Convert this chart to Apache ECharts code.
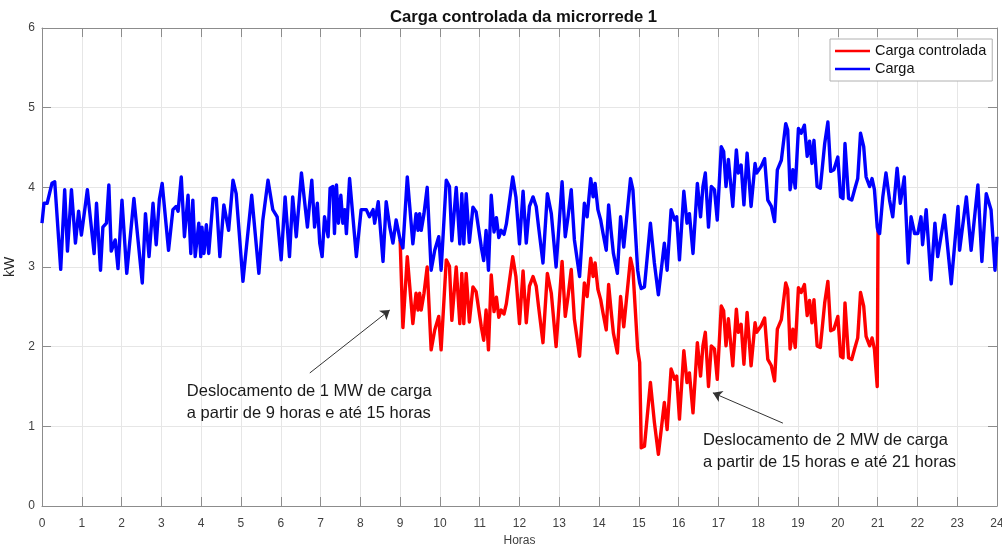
<!DOCTYPE html>
<html>
<head>
<meta charset="utf-8">
<title>Carga controlada da microrrede 1</title>
<script src="https://cdn.jsdelivr.net/npm/echarts@6/dist/echarts.min.js"></script>
<style>
  html, body { margin: 0; padding: 0; background: #fff; }
  #grafico { width: 1002px; height: 546px; }
</style>
</head>
<body>
<div id="grafico"></div>
<script>
// Carga (kW) – vértices da curva ao longo do dia (horas)
const horasCarga = [
  0.00, 0.05, 0.13, 0.18, 0.25, 0.32, 0.47, 0.57, 0.64, 0.74, 0.84, 0.92, 0.99,
  1.14, 1.24, 1.31, 1.37, 1.47, 1.53, 1.62, 1.68, 1.74, 1.84, 1.91,
  2.01, 2.13, 2.31, 2.52, 2.60, 2.69, 2.79, 2.87, 2.95,
  3.02, 3.04, 3.18, 3.29, 3.37, 3.42, 3.50, 3.58, 3.67, 3.74, 3.79, 3.85, 3.94, 3.99,
  4.02, 4.07, 4.13, 4.19, 4.30, 4.38, 4.47, 4.57, 4.69, 4.80, 4.88,
  5.05, 5.27, 5.32, 5.45, 5.55, 5.68, 5.80, 5.91,
  6.01, 6.11, 6.22, 6.30, 6.39, 6.52, 6.67, 6.78, 6.85, 6.92, 6.98,
  7.04, 7.10, 7.19, 7.24, 7.31, 7.35, 7.40, 7.45, 7.51, 7.56, 7.61, 7.65, 7.73, 7.90,
  8.02, 8.15, 8.23, 8.32, 8.36, 8.45, 8.57, 8.65, 8.74, 8.82, 8.90,
  9.00, 9.07, 9.18, 9.32, 9.40, 9.45, 9.49, 9.53, 9.60, 9.68, 9.78, 9.87, 9.97,
  10.03, 10.16, 10.24, 10.30, 10.41, 10.50, 10.55, 10.60, 10.66, 10.74, 10.83, 10.91,
  11.04, 11.10, 11.16, 11.22, 11.29, 11.36, 11.42, 11.48, 11.54, 11.61, 11.67, 11.83, 11.91,
  12.00, 12.09, 12.17, 12.25, 12.34, 12.42, 12.48, 12.59, 12.70, 12.80, 12.92,
  13.07, 13.15, 13.22, 13.30, 13.38, 13.51, 13.63, 13.70, 13.79, 13.85, 13.90, 13.97,
  14.04, 14.10, 14.18, 14.24, 14.30, 14.36, 14.46, 14.54, 14.62, 14.79, 14.85, 14.97,
  15.02, 15.06, 15.14, 15.29, 15.39, 15.49, 15.64, 15.71, 15.81, 15.90, 15.95,
  16.02, 16.13, 16.21, 16.27, 16.36, 16.47, 16.55, 16.61, 16.67, 16.75, 16.82, 16.90, 16.97,
  17.07, 17.13, 17.19, 17.25, 17.36, 17.45, 17.50, 17.57, 17.64, 17.72, 17.82, 17.92, 17.96,
  18.07, 18.16, 18.24, 18.33, 18.41, 18.48, 18.58, 18.69, 18.74, 18.80, 18.87, 18.93,
  19.01, 19.08, 19.16, 19.23, 19.29, 19.35, 19.40, 19.48, 19.56, 19.67, 19.75, 19.82, 19.90,
  20.00, 20.07, 20.13, 20.18, 20.27, 20.35, 20.42, 20.50, 20.57, 20.65, 20.71, 20.80, 20.86, 20.92, 20.99,
  21.01, 21.05, 21.13, 21.21, 21.30, 21.38, 21.49, 21.57, 21.67, 21.77, 21.84, 21.93,
  22.01, 22.09, 22.13, 22.22, 22.34, 22.44, 22.51, 22.68, 22.85,
  23.02, 23.06, 23.23, 23.35, 23.52, 23.62, 23.73, 23.85, 23.95, 24.00
];
const carga = [
  3.55, 3.80, 3.80, 3.78, 4.05, 4.07, 2.97, 3.97, 3.20, 3.97, 3.30, 3.70, 3.40,
  3.97, 3.50, 3.17, 3.80, 2.96, 3.50, 3.55, 4.03, 3.20, 3.34, 2.98,
  3.84, 2.92, 3.86, 2.80, 3.67, 3.13, 3.80, 3.28, 3.85,
  4.05, 4.05, 3.21, 3.72, 3.76, 3.70, 4.13, 3.38, 3.90, 3.17, 3.84, 3.13, 3.55, 3.13,
  3.50, 3.17, 3.53, 3.17, 3.86, 3.86, 3.13, 3.78, 3.46, 4.09, 3.92,
  2.82, 3.90, 3.92, 2.92, 3.59, 4.09, 3.72, 3.63,
  3.09, 3.88, 3.13, 3.88, 3.38, 4.18, 3.50, 4.09, 3.50, 3.80, 3.30,
  3.13, 3.63, 3.38, 3.99, 4.01, 3.42, 4.03, 3.55, 3.90, 3.55, 3.72, 3.42, 4.11, 3.13,
  3.72, 3.72, 3.63, 3.72, 3.55, 3.82, 3.07, 3.82, 3.50, 3.30, 3.59,
  3.34, 3.24, 4.13, 3.29, 3.67, 3.46, 3.67, 3.46, 3.67, 4.00, 2.96, 3.21, 3.38,
  2.96, 4.09, 4.01, 3.33, 4.00, 3.29, 3.92, 3.29, 3.92, 3.31, 3.75, 3.69,
  3.25, 3.08, 3.46, 2.96, 3.90, 3.44, 3.62, 3.37, 3.46, 3.41, 3.54, 4.13, 3.88,
  3.29, 3.95, 3.30, 3.76, 3.88, 3.76, 3.50, 3.05, 3.92, 3.67, 3.00,
  4.07, 3.38, 3.63, 3.97, 3.34, 2.88, 3.80, 3.63, 4.11, 3.88, 4.05, 3.72,
  3.59, 3.42, 3.21, 3.78, 3.46, 3.17, 2.92, 3.63, 3.25, 4.11, 3.97, 2.96,
  2.80, 2.73, 2.75, 3.55, 3.05, 2.65, 3.30, 2.96, 3.72, 3.59, 3.63,
  3.09, 3.95, 3.55, 3.67, 3.17, 4.05, 3.63, 4.01, 4.18, 3.50, 4.01, 3.97, 3.59,
  4.51, 4.45, 4.01, 4.35, 3.76, 4.47, 4.18, 4.28, 3.78, 4.43, 3.76, 4.30, 4.18,
  4.26, 4.36, 3.84, 3.76, 3.57, 4.22, 4.34, 4.80, 4.72, 3.97, 4.22, 3.99,
  4.74, 4.68, 4.78, 4.39, 4.58, 4.30, 4.59, 4.01, 3.99, 4.55, 4.82, 4.20, 4.22,
  4.38, 3.88, 3.86, 4.55, 3.86, 3.84, 3.97, 4.11, 4.68, 4.51, 4.13, 4.01, 4.11, 3.97, 3.50,
  3.45, 3.42, 3.88, 4.18, 3.84, 3.63, 4.24, 3.80, 4.13, 3.05, 3.63, 3.42,
  3.42, 3.63, 3.28, 3.72, 2.84, 3.55, 3.13, 3.65, 2.79,
  3.76, 3.21, 3.88, 3.21, 4.03, 3.07, 3.92, 3.72, 2.96, 3.38
];

// Carga controlada (kW) – trecho deslocado entre 9 h e 21 h
const horasControlada = [
  9.00, 9.07, 9.18, 9.32, 9.40, 9.45, 9.49, 9.53, 9.60, 9.68, 9.78, 9.87, 9.97,
  10.03, 10.16, 10.24, 10.30, 10.41, 10.50, 10.55, 10.60, 10.66, 10.74, 10.83, 10.91,
  11.04, 11.10, 11.16, 11.22, 11.29, 11.36, 11.42, 11.48, 11.54, 11.61, 11.67, 11.83, 11.91,
  12.00, 12.09, 12.17, 12.25, 12.34, 12.42, 12.48, 12.59, 12.70, 12.80, 12.92,
  13.07, 13.15, 13.22, 13.30, 13.38, 13.51, 13.63, 13.70, 13.79, 13.85, 13.90, 13.97,
  14.04, 14.10, 14.18, 14.24, 14.30, 14.36, 14.46, 14.54, 14.62, 14.79, 14.85, 14.97,
  15.02, 15.06, 15.14, 15.29, 15.39, 15.49, 15.64, 15.71, 15.81, 15.90, 15.95,
  16.02, 16.13, 16.21, 16.27, 16.36, 16.47, 16.55, 16.61, 16.67, 16.75, 16.82, 16.90, 16.97,
  17.07, 17.13, 17.19, 17.25, 17.36, 17.45, 17.50, 17.57, 17.64, 17.72, 17.82, 17.92, 17.96,
  18.07, 18.16, 18.24, 18.33, 18.41, 18.48, 18.58, 18.69, 18.74, 18.80, 18.87, 18.93,
  19.01, 19.08, 19.16, 19.23, 19.29, 19.35, 19.40, 19.48, 19.56, 19.67, 19.75, 19.82, 19.90,
  20.00, 20.07, 20.13, 20.18, 20.27, 20.35, 20.42, 20.50, 20.57, 20.65, 20.71, 20.80, 20.86, 20.92, 20.99,
  21.01
];
const cargaControlada = [
  3.34, 2.24, 3.13, 2.29, 2.67, 2.46, 2.67, 2.46, 2.67, 3.00, 1.96, 2.21, 2.38,
  1.96, 3.09, 3.01, 2.33, 3.00, 2.29, 2.92, 2.29, 2.92, 2.31, 2.75, 2.69,
  2.25, 2.08, 2.46, 1.96, 2.90, 2.44, 2.62, 2.37, 2.46, 2.41, 2.54, 3.13, 2.88,
  2.29, 2.95, 2.30, 2.76, 2.88, 2.76, 2.50, 2.05, 2.92, 2.67, 2.00,
  3.07, 2.38, 2.63, 2.97, 2.34, 1.88, 2.80, 2.63, 3.11, 2.88, 3.05, 2.72,
  2.59, 2.42, 2.21, 2.78, 2.46, 2.17, 1.92, 2.63, 2.25, 3.11, 2.97, 1.96,
  1.80, 0.73, 0.75, 1.55, 1.05, 0.65, 1.30, 0.96, 1.72, 1.59, 1.63,
  1.09, 1.95, 1.55, 1.67, 1.17, 2.05, 1.63, 2.01, 2.18, 1.50, 2.01, 1.97, 1.59,
  2.51, 2.45, 2.01, 2.35, 1.76, 2.47, 2.18, 2.28, 1.78, 2.43, 1.76, 2.30, 2.18,
  2.26, 2.36, 1.84, 1.76, 1.57, 2.22, 2.34, 2.80, 2.72, 1.97, 2.22, 1.99,
  2.74, 2.68, 2.78, 2.39, 2.58, 2.30, 2.59, 2.01, 1.99, 2.55, 2.82, 2.20, 2.22,
  2.38, 1.88, 1.86, 2.55, 1.86, 1.84, 1.97, 2.11, 2.68, 2.51, 2.13, 2.01, 2.11, 1.97, 1.50,
  3.45
];

// Rótulos dos eixos
const ticksHoras = [0, 1, 2, 3, 4, 5, 6, 7, 8, 9, 10, 11, 12, 13, 14, 15, 16, 17, 18, 19, 20, 21, 22, 23, 24];
const ticksKW = [0, 1, 2, 3, 4, 5, 6];

const FONTE = '"Liberation Sans", Arial, Helvetica, sans-serif';
const COR_EIXO = '#8c8c8c';
const COR_GRADE = '#e6e6e6';

const pares = (xs, ys) => xs.map((x, i) => [x, ys[i]]);

// Anotações com setas (coordenadas em horas / kW)
const setas = [
  { de: [6.73, 1.67], ate: [8.74, 2.46] },
  { de: [18.62, 1.04], ate: [16.86, 1.42] }
];
const notas = [
  { texto: 'Deslocamento de 1 MW de carga\na partir de 9 horas e até 15 horas', em: [3.64, 1.30] },
  { texto: 'Deslocamento de 2 MW de carga\na partir de 15 horas e até 21 horas', em: [16.61, 0.68] }
];

const chart = echarts.init(document.getElementById('grafico'), null, { renderer: 'canvas' });

const eixoX = (pos, rotulos) => ({
  type: 'value',
  position: pos,
  min: ticksHoras[0],
  max: ticksHoras[ticksHoras.length - 1],
  interval: 1,
  axisLine: { show: true, onZero: false, lineStyle: { color: COR_EIXO, width: 1 } },
  axisTick: { show: true, inside: true, length: 9, lineStyle: { color: COR_EIXO } },
  axisLabel: { show: rotulos, color: '#404040', fontSize: 12, fontFamily: FONTE, margin: 12 },
  splitLine: { show: rotulos, lineStyle: { color: COR_GRADE, width: 1 } }
});
const eixoY = (pos, rotulos) => ({
  type: 'value',
  position: pos,
  min: ticksKW[0],
  max: ticksKW[ticksKW.length - 1],
  interval: 1,
  axisLine: { show: true, onZero: false, lineStyle: { color: COR_EIXO, width: 1 } },
  axisTick: { show: true, inside: true, length: 9, lineStyle: { color: COR_EIXO } },
  axisLabel: { show: rotulos, color: '#404040', fontSize: 12, fontFamily: FONTE, margin: 7 },
  splitLine: { show: rotulos, lineStyle: { color: COR_GRADE, width: 1 } }
});

const xBase = eixoX('bottom', true);
xBase.name = 'Horas';
xBase.nameLocation = 'middle';
xBase.nameGap = 27;
xBase.nameTextStyle = { color: '#404040', fontSize: 12, fontFamily: FONTE };

const yBase = eixoY('left', true);
yBase.name = 'kW';
yBase.nameLocation = 'middle';
yBase.nameGap = 13;
yBase.nameTextStyle = { color: '#262626', fontSize: 14, fontFamily: FONTE };

chart.setOption({
  animation: false,
  backgroundColor: '#ffffff',
  title: {
    text: 'Carga controlada da microrrede 1',
    left: 385,
    top: 4,
    textStyle: { fontSize: 16.7, fontWeight: 'bold', color: '#111', fontFamily: FONTE }
  },
  legend: {
    orient: 'vertical',
    left: 830,
    top: 39,
    padding: [4, 6, 4, 5],
    itemGap: 2,
    itemWidth: 35,
    itemHeight: 2.5,
    icon: 'rect',
    backgroundColor: '#ffffff',
    borderColor: '#b0b0b0',
    borderWidth: 1,
    borderRadius: 0,
    textStyle: { fontSize: 14.5, lineHeight: 16, color: '#111', fontFamily: FONTE },
    data: ['Carga controlada', 'Carga']
  },
  grid: { left: 42, right: 5, top: 28, bottom: 40, containLabel: false, outerBoundsMode: 'none' },
  xAxis: [xBase, eixoX('top', false)],
  yAxis: [yBase, eixoY('right', false)],
  series: [
    {
      name: 'Carga controlada',
      type: 'line',
      data: pares(horasControlada, cargaControlada),
      showSymbol: false,
      symbol: 'none',
      color: '#ff0000',
      lineStyle: { color: '#ff0000', width: 3.4, join: 'round' },
      z: 2
    },
    {
      name: 'Carga',
      type: 'line',
      data: pares(horasCarga, carga),
      showSymbol: false,
      symbol: 'none',
      color: '#0000ff',
      lineStyle: { color: '#0000ff', width: 3.4, join: 'round' },
      z: 3,
      markLine: {
        silent: true,
        symbol: ['none', 'arrow'],
        symbolSize: 9,
        label: { show: false },
        emphasis: { disabled: true },
        lineStyle: { color: '#333333', width: 1, type: 'solid' },
        data: setas.map(s => [{ coord: s.de }, { coord: s.ate }])
      }
    }
  ]
});

// Textos das anotações, posicionados pelas coordenadas do gráfico
chart.setOption({
  graphic: notas.map(n => {
    const p = chart.convertToPixel({ gridIndex: 0 }, n.em);
    return {
      type: 'text',
      x: p[0],
      y: p[1],
      silent: true,
      z: 10,
      style: {
        text: n.texto,
        fill: '#1a1a1a',
        font: '16.5px ' + FONTE,
        lineHeight: 22,
        align: 'left',
        verticalAlign: 'middle'
      }
    };
  })
});
</script>
</body>
</html>
